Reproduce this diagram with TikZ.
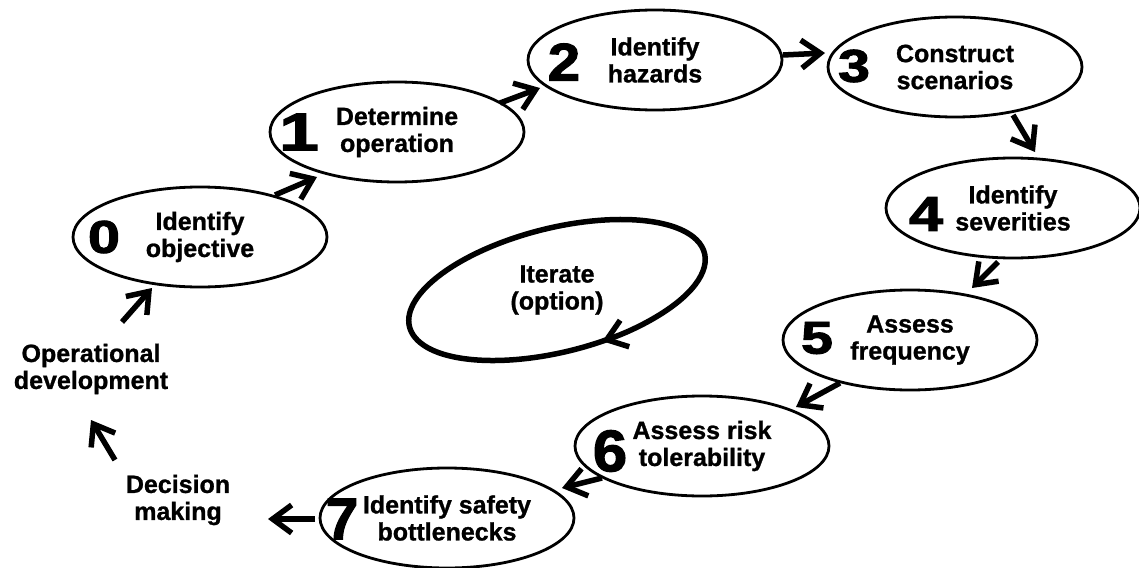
\documentclass[tikz,border=0pt]{standalone}
\usepackage{fontspec}
\setmainfont{Liberation Sans}[BoldFeatures={FakeBold=1}]
\newfontfamily\digfont{Liberation Sans}[BoldFeatures={FakeBold=2}]
\usetikzlibrary{shapes.geometric,arrows.meta,calc}
\newcommand\dig[3]{{\digfont\bfseries\fontsize{#1}{#1}\selectfont\scalebox{#2}[1]{#3}}}
\begin{document}
\begin{tikzpicture}[x=1pt,y=-1pt,
  lbl/.style={font=\fontsize{25}{27}\selectfont\bfseries, align=center, inner sep=0pt},
  stage/.style={lbl, ellipse, draw, line width=2.8pt, minimum width=254pt, minimum height=100pt},
  num/.style={inner sep=0pt},
  flow/.style={line width=5.5pt, -{Straight Barb[length=19pt,width=28pt]}},
  iterline/.style={line width=5.5pt, -{Straight Barb[length=19pt,width=28pt]}}]
\useasboundingbox (0,0) rectangle (1139,567);

% stages
\node[stage] (e0) at (200,237) {Identify\\objective};
\node[stage] (e1) at (397,132) {Determine\\operation};
\node[stage] (e2) at (655,60)  {Identify\\hazards};
\node[stage] (e3) at (955,67)  {Construct\\scenarios};
\node[stage] (e4) at (1013,208) {Identify\\severities};
\node[stage] (e5) at (910,340) {Assess\\frequency};
\node[stage] (e6) at (702,446) {Assess risk\\tolerability};
\node[stage] (e7) at (447,518) {Identify safety\\bottlenecks};

% numbers
\node[num] (n0) at (104,237) {\dig{46}{1.25}{0}};
\node[num] (n1) at (299,132) {\dig{53}{1.35}{1}};
\node[num] (n2) at (564,62)  {\dig{53}{1.1}{2}};
\node[num] (n3) at (854,66)  {\dig{46}{1.25}{3}};
\node[num] (n4) at (926,214) {\dig{49}{1.25}{4}};
\node[num] (n5) at (817,338) {\dig{46}{1.25}{5}};
\node[num] (n6) at (610,451) {\dig{58.7}{1.05}{6}};
\node[num] (n7) at (342,519) {\dig{58.7}{1.0}{7}};

% free labels
\node[lbl] (op) at (91,369) {Operational\\development};
\node[lbl] (dm) at (178,500) {Decision\\making};
\node[lbl] (it) at (557,290) {Iterate\\(option)};

% connectors
\draw[flow] ($(e0)+(75,-42)$) -- ($(e1)+(-80,45)$);
\draw[flow] ($(e1)+(103,-29)$) -- ($(e2)+(-115,28)$);
\draw[flow] ($(e2)+(128,-5)$) -- ($(e3)+(-130,-14)$);
\draw[flow] ($(e3)+(58,48)$) -- ($(e4)+(22,-56)$);
\draw[flow] ($(e4)+(-15,54)$) -- ($(e5)+(62,-52)$);
\draw[flow] ($(e5)+(-70,43)$) -- ($(e6)+(94,-39)$);
\draw[flow] ($(e6)+(-100,32)$) -- ($(e7)+(115,-30)$);
\draw[flow] ($(e7)+(-132,1)$) -- ($(dm)+(90,19)$);
\draw[flow] ($(dm)+(-63,-40)$) -- ($(op)+(0,51)$);
\draw[flow] ($(op)+(31,-47)$) -- ($(e0)+(-48,51)$);

% iterate loop
\draw[iterline, rotate around={14:(it.center)}] (it.center) ++(-284:152 and 62)
  arc[start angle=-284, end angle=78, x radius=152, y radius=62];
\end{tikzpicture}
\end{document}
